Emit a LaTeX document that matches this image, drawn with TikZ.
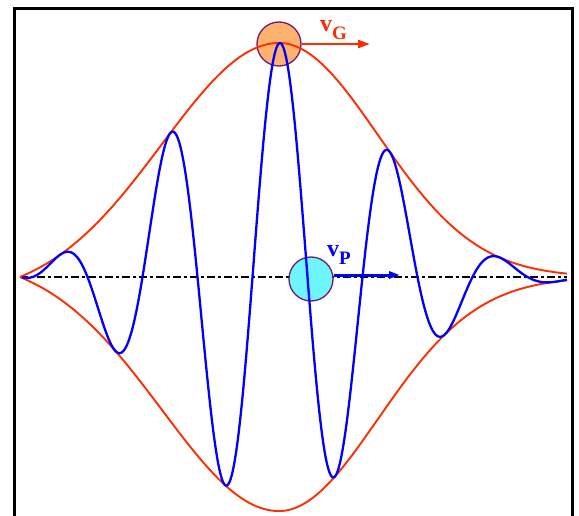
\documentclass[tikz,border=0pt]{standalone}
\usepackage{fontspec}
\setmainfont{Liberation Serif}
\usetikzlibrary{arrows.meta}
\definecolor{envred}{RGB}{255,45,0}
\definecolor{ballorange}{RGB}{255,178,110}
\definecolor{ballcyan}{RGB}{110,245,250}
\definecolor{ballrim}{RGB}{115,25,115}
\definecolor{wavblue}{RGB}{0,0,255}
\tikzset{
  declare function={
    envL(\x)=234*(exp(-(((\x-279)/165)^2))-0.085)/0.915;
    envR(\x)=234*exp(-(((\x-279)/140)^2));
  },
  frameline/.style={line width=3pt,black},
  axisline/.style={line width=1.8pt,black,dash pattern=on 8pt off 3pt on 3pt off 3pt},
  envline/.style={line width=1.9pt,envred},
  waveline/.style={line width=2.3pt,wavblue,line join=round},
  ball/.style={circle,draw=ballrim,line width=1.3pt,minimum size=44pt,inner sep=0pt},
  lbl/.style={inner sep=0pt,anchor=base west,font=\bfseries\fontsize{24}{24}\selectfont},
}
\begin{document}
\begin{tikzpicture}[x=1pt,y=-1pt]
\useasboundingbox (0,0) rectangle (579,516);
% frame
\draw[frameline] (14,516) -- (14,8.5) -- (572.5,8.5) -- (572.5,516);
% axis
\coordinate (axL) at (20,277);
\coordinate (axR) at (567,277);
\draw[axisline] (axL) -- (axR);
% balls
\node[ball,fill=ballorange] (G) at (279,44) {};
\node[ball,fill=ballcyan] (P) at (311,279) {};
% envelopes
\draw[envline] plot[domain=20:279,samples=120] (\x,{277-envL(\x)})
  -- plot[domain=279:567,samples=120] (\x,{277-envR(\x)});
\draw[envline] plot[domain=20:279,samples=120] (\x,{277+envL(\x)})
  -- plot[domain=279:567,samples=120] (\x,{277+envR(\x)});
% wave
\draw[waveline] plot[domain=22:279,samples=250] (\x,{277-envL(\x)*cos((\x-280)/110*360)})
  -- plot[domain=279:567,samples=280] (\x,{277-envR(\x)*cos((\x-280)/110*360)});
% velocity arrows
\coordinate (vGend) at (370,44);
\coordinate (vPend) at (400,275);
\draw[line width=2.6pt,envred,-{Triangle[length=12pt,width=8pt]}] (G) -- (vGend);
\draw[line width=3pt,wavblue,-{Triangle[length=11pt,width=7pt]}] (P.east |- vPend) -- (vPend);
% labels
\node[lbl,text=envred] (vG) at (320,32) {v\raisebox{-8pt}{\fontsize{19}{19}\selectfont G}};
\node[lbl,text=wavblue] (vP) at (327,257) {v\raisebox{-8pt}{\fontsize{19}{19}\selectfont P}};
\end{tikzpicture}
\end{document}
